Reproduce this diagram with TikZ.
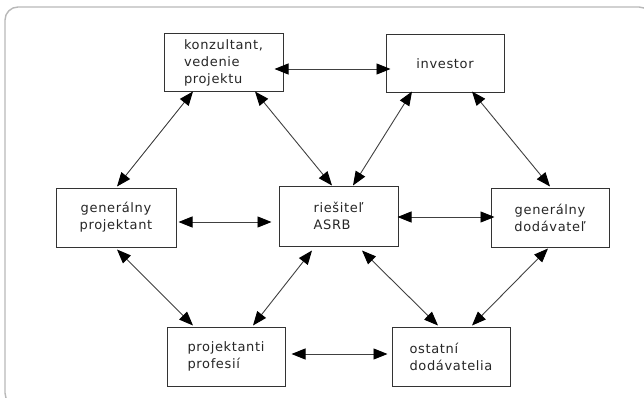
\documentclass[tikz,border=0pt]{standalone}
\usepackage{fontspec}
\setmainfont{DejaVu Sans}[LetterSpace=5]
\usetikzlibrary{arrows.meta,calc}

\tikzset{
  box/.style={draw=black!80, line width=1pt, fill=white,
    minimum width=118pt, minimum height=59pt, inner sep=0pt,
    font=\fontsize{13}{17}\selectfont, text=black!85},
  link/.style={draw=black!75, line width=0.9pt,
    {Triangle[length=14pt,width=11pt,fill=black,color=black]}-{Triangle[length=14pt,width=11pt,fill=black,color=black]}},
  frame/.style={draw=black!28, line width=1.4pt, rounded corners=13pt}
}

\begin{document}
\begin{tikzpicture}[x=1pt,y=-1pt]
  \useasboundingbox (0,0) rectangle (644,398);
  \begin{scope}
    \clip (0,0) rectangle (644,398);
    \draw[frame] (5,7) rectangle (652,406);
  \end{scope}

  % partners
  \node[box, minimum width=119pt, minimum height=58pt, align=left] (kon) at (223.5,63)
    {konzultant,\\vedenie\\projektu};
  \node[box, minimum height=58pt] (inv) at (445,64) {investor};
  \node[box, minimum width=120pt, align=center] (gp) at (116,217.5)
    {generálny\\projektant};
  \node[box, minimum width=119pt, minimum height=60pt, align=left] (ri) at (338.5,216)
    {riešiteľ\\ASRB};
  \node[box, align=center] (gd) at (550,217.5) {generálny\\dodávateľ};
  \node[box, align=left] (pp) at (226,356.5) {projektanti\\profesií};
  \node[box, align=left] (od) at (451,356.5) {ostatní\\dodávatelia};

  % horizontal links
  \draw[link] ($(kon.east)+(-9,6)$) -- ($(inv.west)+(5,5)$);
  \draw[link] ($(gp.east)+(2,4.5)$) -- ($(ri.west)+(-7,6)$);
  \draw[link] ($(ri.east)+(-1,1)$) -- ($(gd.west)+(4,-0.5)$);
  \draw[link] ($(pp.east)+(6,-2.5)$) -- ($(od.west)+(-4,-2.5)$);

  % diagonal links
  \draw[link] ($(kon.south)+(-30.5,-1)$) -- ($(gp.north)+(1,-1)$);
  \draw[link] ($(kon.south)+(31.5,-1)$) -- ($(ri.north)+(-6.5,0)$);
  \draw[link] ($(inv.south)+(-33,-2)$) -- ($(ri.north)+(14.5,0)$);
  \draw[link] ($(inv.south)+(27,-2)$) -- ($(gd.north)+(0,-1)$);
  \draw[link] ($(gp.south)+(1,2)$) -- ($(pp.north)+(-33,-1)$);
  \draw[link] ($(ri.south)+(-26.5,4)$) -- ($(pp.north)+(27,-1)$);
  \draw[link] ($(ri.south)+(23.5,4)$) -- ($(od.north)+(-13,-1)$);
  \draw[link] ($(gd.south)+(-2,1)$) -- ($(od.north)+(21,-1)$);
\end{tikzpicture}
\end{document}
